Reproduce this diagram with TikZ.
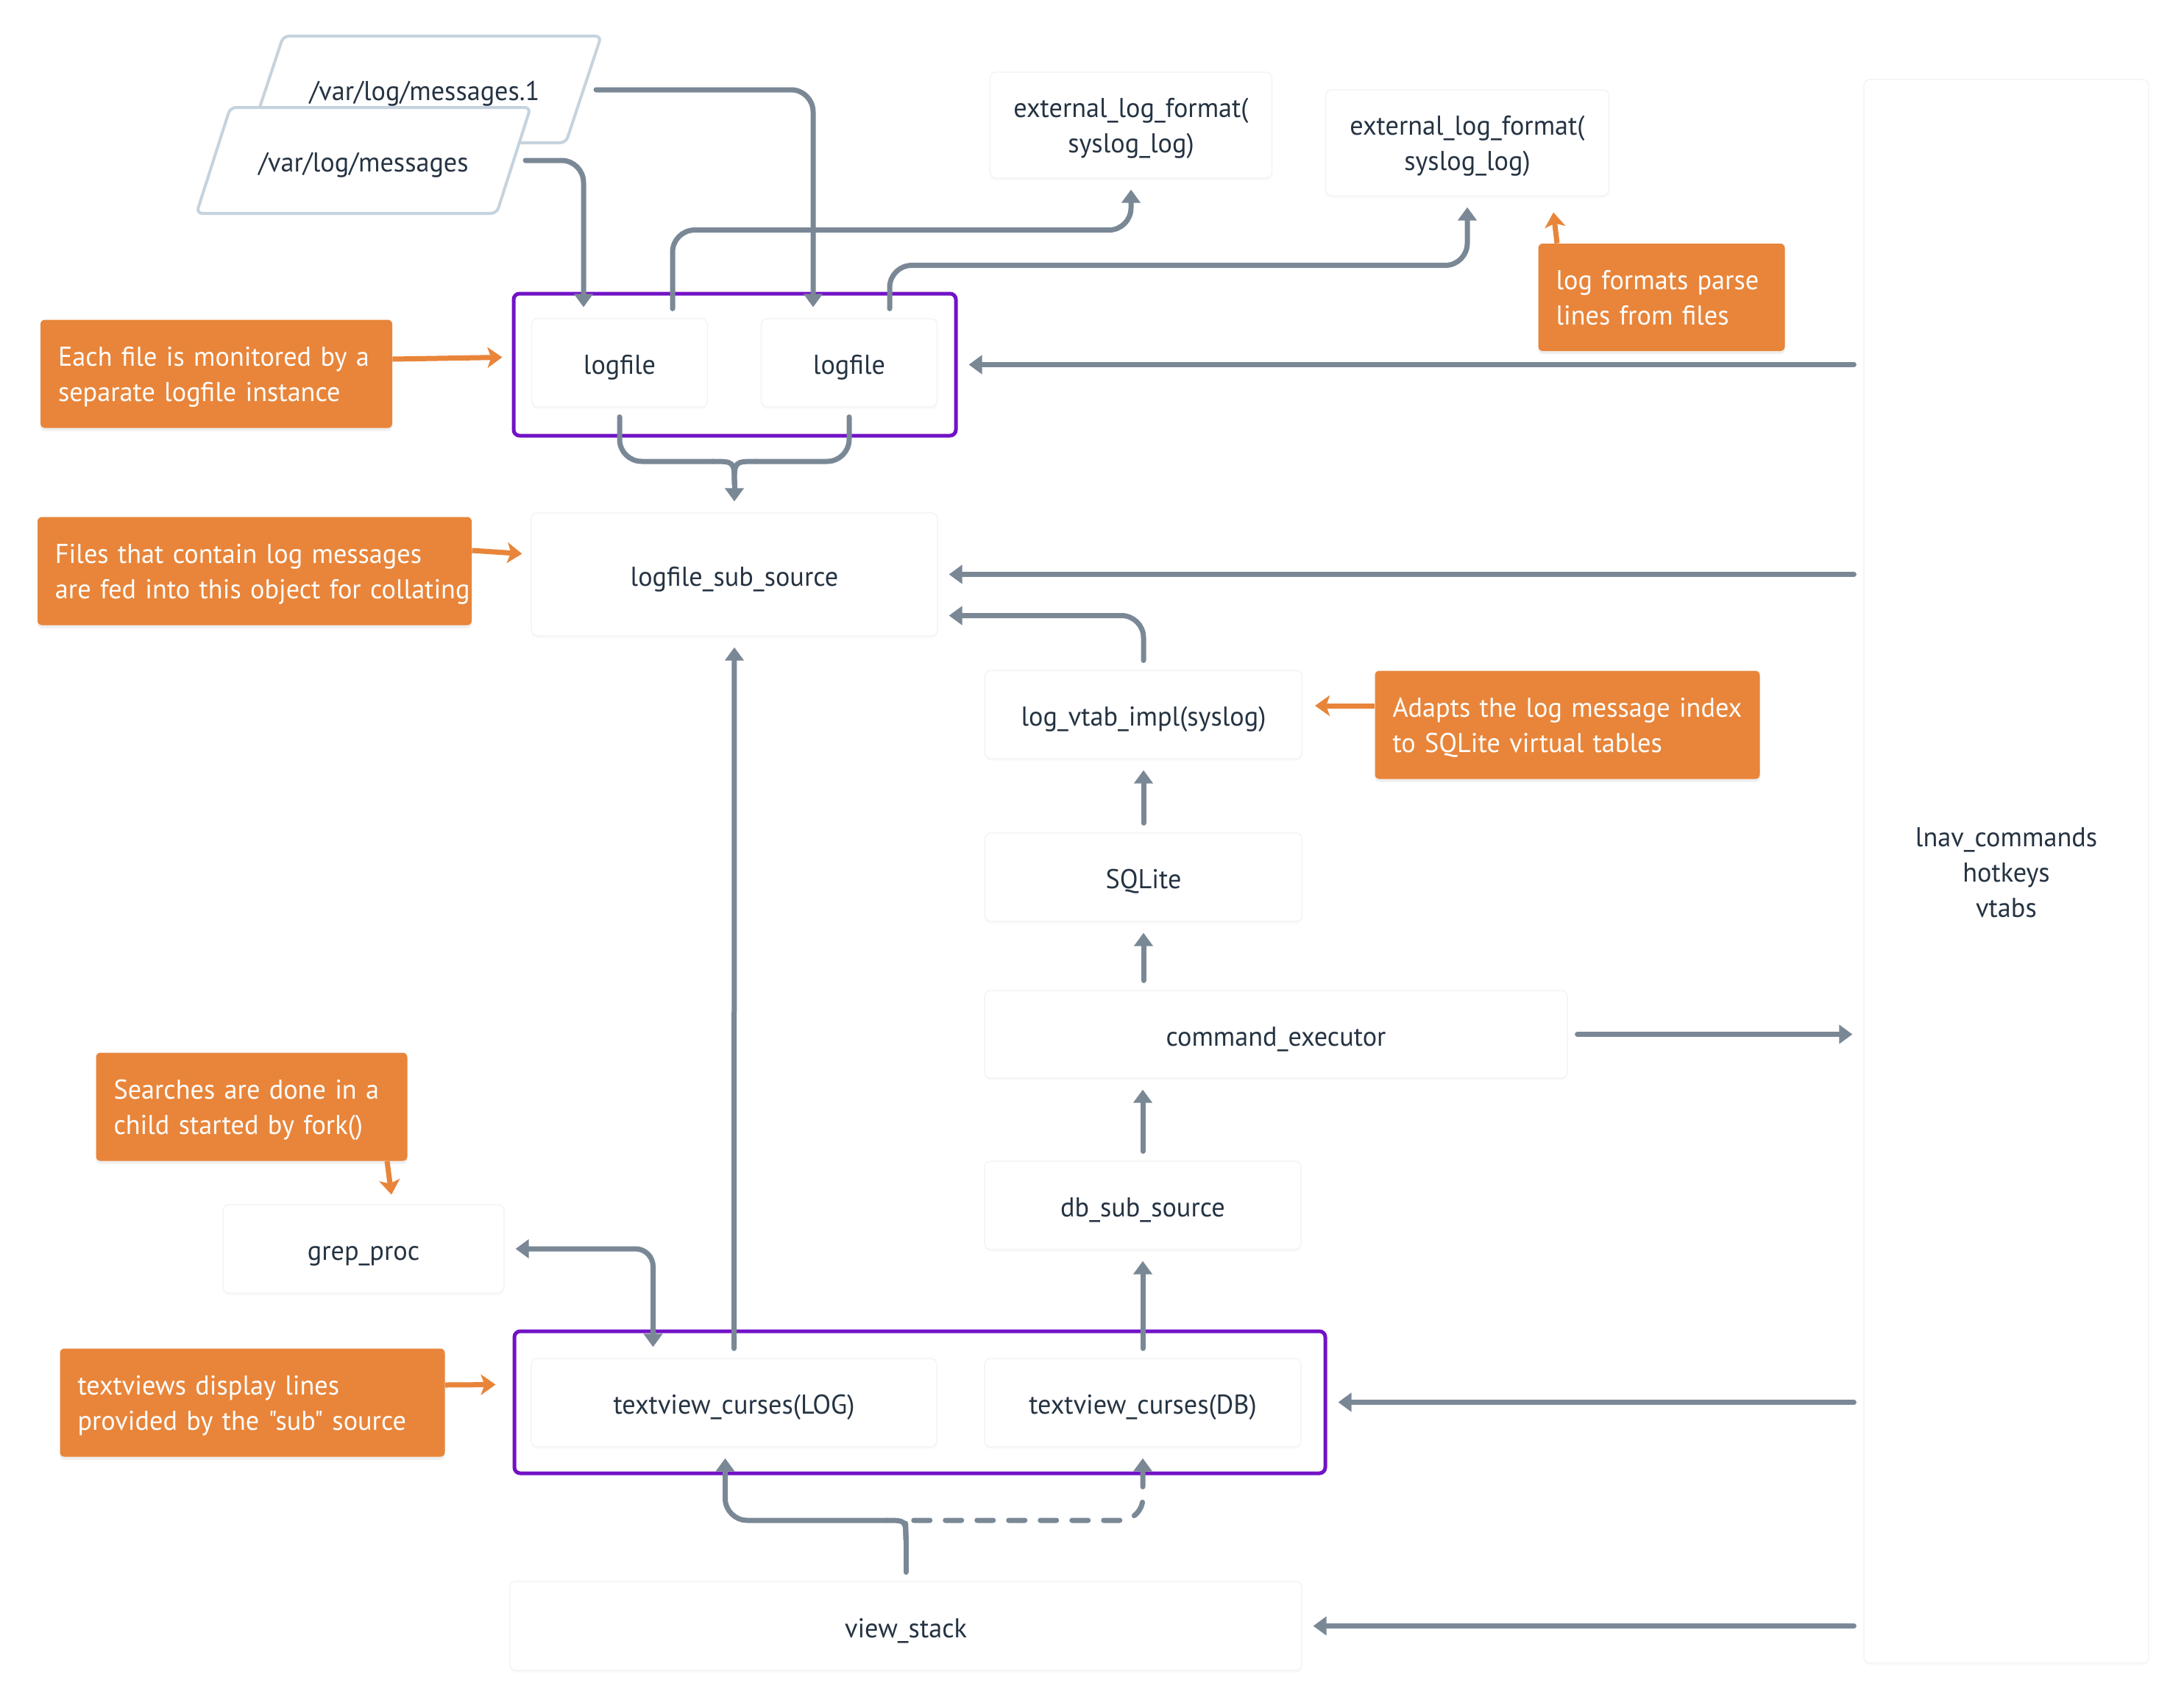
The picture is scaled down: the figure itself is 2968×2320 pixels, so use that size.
\documentclass[tikz,border=0pt]{standalone}
\usepackage{fontspec}
\setmainfont{PT Sans}[Ligatures=TeXOff, FakeStretch=0.98, WordSpace=0.6]
\usetikzlibrary{arrows.meta,calc,shadows}
\definecolor{lnk}{HTML}{7A8896}
\definecolor{pur}{HTML}{7212C6}
\definecolor{org}{HTML}{E8853A}
\definecolor{txt}{HTML}{253342}
\definecolor{para}{HTML}{C5D3DE}
\definecolor{faint}{HTML}{F2F2F2}
\begin{document}
\begin{tikzpicture}[x=0.5pt,y=-0.5pt,
  font=\fontsize{18.5pt}{24pt}\selectfont,
  >={Triangle[length=9pt,width=12.5pt]},
  one/.style={text height=15.5pt, text depth=0pt},
  two/.style={text height=15.5pt, text depth=26pt},
  twoc/.style={text height=39.5pt, text depth=2pt},
  threec/.style={text height=63.5pt, text depth=1.2pt},
  box/.style={draw=faint, line width=0.6pt, fill=white, rounded corners=4pt, text=txt,
    align=center, inner sep=0pt, one,
    drop shadow={shadow xshift=0pt,shadow yshift=-1.5pt,opacity=.04}},
  group/.style={draw=pur, line width=2.5pt, rounded corners=4pt, inner sep=0pt},
  note/.style={fill=org, rounded corners=3pt, text=white, align=left, inner xsep=12pt,
    inner ysep=0pt, minimum height=73.5pt, two,
    drop shadow={shadow xshift=0pt,shadow yshift=-2pt,opacity=.12}},
  parab/.style={draw=para, line width=2pt, fill=white, rounded corners=4pt},
  plain/.style={text=txt, inner sep=0pt, one},
  line/.style={draw=lnk, line width=3.5pt, line cap=round},
  conn/.style={line, rounded corners=15pt, ->, shorten <=6.5pt, shorten >=7.5pt},
  oarr/.style={draw=org, line width=3.5pt, -{Stealth[length=10pt,width=14pt,inset=2.5pt]}}
]
\fill[white] (0,0) rectangle (2968,2320);
\path[use as bounding box] (0,0) rectangle (2968,2320);

% files
\draw[parab] (385,49) -- (817,49) -- (769,194) -- (337,194) -- cycle;
\draw[parab] (313,146) -- (721,146) -- (675,290) -- (267,290) -- cycle;
\node[plain] (f1) at (577,121) {/var/log/messages.1};
\node[plain] (f2) at (494,218) {/var/log/messages};
\coordinate (f1o) at (810,122);
\coordinate (f2o) at (714,218);

% groups
\node[group, minimum width=300.5pt, minimum height=96.5pt] (lfgroup) at (998.5,495.5) {};
\node[group, minimum width=551pt, minimum height=96.5pt] (tvgroup) at (1250,1905.5) {};

% boxes
\node[box, minimum width=119.5pt, minimum height=60pt] (lf1) at (842,493) {logfile};
\node[box, minimum width=119.5pt, minimum height=60pt] (lf2) at (1154,493) {logfile};
\node[box, twoc, minimum width=191.5pt, minimum height=72pt] (ext1) at (1537,170) {external\_log\_format(\\syslog\_log)};
\node[box, twoc, minimum width=192.5pt, minimum height=72pt] (ext2) at (1994,194) {external\_log\_format(\\syslog\_log)};
\node[box, minimum width=276pt, minimum height=83.5pt] (lss) at (998,780.5) {logfile\_sub\_source};
\node[box, minimum width=215.5pt, minimum height=60pt] (lvt) at (1554,971) {log\_vtab\_impl(syslog)};
\node[box, minimum width=215.5pt, minimum height=60pt] (sql) at (1554,1192) {SQLite};
\node[box, minimum width=396pt, minimum height=59.5pt] (cmd) at (1734,1405.5) {command\_executor};
\node[box, minimum width=215pt, minimum height=60pt] (db) at (1553,1638) {db\_sub\_source};
\node[box, minimum width=191pt, minimum height=60pt] (grep) at (494,1697) {grep\_proc};
\node[box, minimum width=275.5pt, minimum height=60pt] (tvlog) at (997.5,1906) {textview\_curses(LOG)};
\node[box, minimum width=215pt, minimum height=60pt] (tvdb) at (1553,1906) {textview\_curses(DB)};
\node[box, minimum width=538pt, minimum height=60.5pt] (vs) at (1231,2209.5) {view\_stack};
\node[box, threec, minimum width=193.5pt, minimum height=1076pt] (panel) at (2726.5,1184) {lnav\_commands\\hotkeys\\vtabs};

% notes
\node[note, text width=215pt] (o1) at (294,508) {\mbox{Each file is monitored by a}\\\mbox{separate logfile instance}};
\node[note, text width=271pt] (o2) at (346,776) {\mbox{Files that contain log messages}\\\mbox{are fed into this object for collating}};
\node[note, text width=143.5pt, minimum height=73pt] (o3) at (2258,404) {\mbox{log formats parse}\\\mbox{lines from files}};
\node[note, text width=237.5pt] (o4) at (2130,985) {\mbox{Adapts the log message index}\\\mbox{to SQLite virtual tables}};
\node[note, text width=187.5pt] (o5) at (342,1504) {\mbox{Searches are done in a}\\\mbox{child started by fork()}};
\node[note, text width=237.5pt] (o6) at (343,1906) {\mbox{textviews display lines}\\\mbox{provided by the "sub" source}};

% note arrows
\draw[oarr] ($(o1.east)+(0,-20)$) -- ($(lfgroup.west)+(-13,-10)$);
\draw[oarr] ($(o2.east)+(0,-28)$) -- ($(lss.west)+(-12,-28)$);
\draw[oarr] ($(o3.north)+(-142,0)$) -- ($(o3.north)+(-147,-42)$);
\draw[oarr] ($(o4.west)+(0,-26)$) -- ($(lvt.east)+(17,-12)$);
\draw[oarr] ($(o5.south)+(184,0)$) -- ($(grep.north)+(38,-13)$);
\draw[oarr] ($(o6.east)+(0,-24)$) -- ($(tvgroup.west)+(-23,-24)$);

% connectors
\draw[conn, shorten <=0pt] (f2o) -| ($(lf1.north)+(-49,0)$);
\draw[conn, shorten <=0pt] (f1o) -| ($(lf2.north)+(-49,0)$);
\draw[conn] ($(lf1.north)+(72,0)$) |- ($(ext1.south)+(0,70)$) -- (ext1.south);
\draw[conn] ($(lf2.north)+(55,0)$) |- ($(ext2.south)+(0,94)$) -- (ext2.south);

% merge into logfile_sub_source
\draw[line, rounded corners=15pt] ($(lf1.south)+(0,13)$) |- (968,627);
\draw[line] (968,627) .. controls (998,627) .. (998,658);
\draw[line, rounded corners=15pt] ($(lf2.south)+(0,13)$) |- (1028,627);
\draw[line] (1028,627) .. controls (998,627) .. (998,658);
\draw[conn, shorten <=0pt] (998,655) -- (lss.north);

\draw[conn] (panel.west |- lfgroup.east) -- (lfgroup.east);
\draw[conn] (panel.west |- lss.east) -- (lss.east);
\draw[conn] (lvt.north) |- ($(lss.east)+(0,56)$);
\draw[conn] (sql.north) -- (lvt.south);
\draw[conn] (sql.south |- cmd.north) -- (sql.south);
\draw[conn] (cmd.east) -- (panel.west |- cmd.east);
\draw[conn] (db.north) -- (db.north |- cmd.south);
\draw[conn] (tvdb.north) -- (db.south);
\draw[conn] (tvlog.north) -- (lss.south);
\draw[conn, <->, shorten <=7.5pt, rounded corners=12pt] (grep.east) -| ($(tvlog.north)+(-110,0)$);
\draw[conn] (panel.west |- tvgroup.east) -- (tvgroup.east);
\draw[conn] (panel.west |- vs.east) -- (vs.east);

% view_stack split
\draw[line] ($(vs.north)+(0,-12)$) -- (1231,2092);
\draw[line] (1231,2092) .. controls (1231,2066) .. (1205,2066);
\draw[conn, shorten <=0pt] (1205,2066) -| ($(tvlog.south)+(-12,0)$);
\draw[conn, shorten <=0pt, dash pattern=on 11pt off 10.5pt] (1231,2092) .. controls (1231,2066) .. (1257,2066) -| (tvdb.south);
\end{tikzpicture}
\end{document}
